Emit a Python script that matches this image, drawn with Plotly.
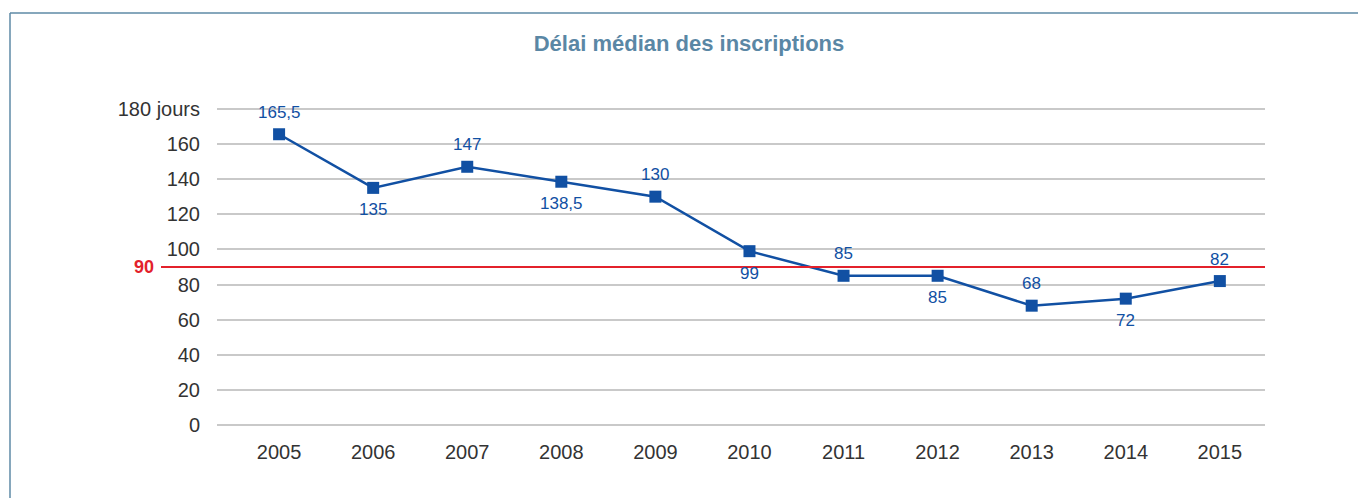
import plotly.graph_objects as go

# Median registration delay, in days
years = ["2005", "2006", "2007", "2008", "2009", "2010", "2011", "2012", "2013", "2014", "2015"]
delai = [165.5, 135, 147, 138.5, 130, 99, 85, 85, 68, 72, 82]
seuil = 90
y_ticks = [0, 20, 40, 60, 80, 100, 120, 140, 160, 180]
y_tick_text = ["0", "20", "40", "60", "80", "100", "120", "140", "160", "180 jours"]

# label placement: +1 above the marker, -1 below
label_side = [1, -1, 1, -1, 1, -1, 1, -1, 1, -1, 1]

BLUE = "#1150a3"
RED = "#e3212b"
GRID = "#c9c9c9"
TXT = "#333333"
FRAME = "#5e8aa6"
FONT = "Liberation Sans, Arial, sans-serif"

W, H = 1358, 498
L, R, T, B = 217, 93, 107, 71
pw, ph = W - L - R, H - T - B

x_idx = list(range(len(years)))

fig = go.Figure()
fig.add_trace(go.Scatter(
    x=x_idx, y=delai, mode="lines+markers",
    line=dict(color=BLUE, width=2.5),
    marker=dict(symbol="square", size=12, color=BLUE),
    hoverinfo="skip", showlegend=False,
))


def fmt(v):
    return f"{v:g}".replace(".", ",")


annotations = []
for i, (v, s) in enumerate(zip(delai, label_side)):
    annotations.append(dict(
        x=i, y=v, xref="x", yref="y", text=fmt(v), showarrow=False,
        yshift=22 * s, font=dict(family=FONT, size=17, color=BLUE),
    ))

# threshold label
annotations.append(dict(
    x=(156 - L) / pw, y=seuil, xref="paper", yref="y", text="<b>90</b>",
    showarrow=False, xanchor="right", font=dict(family=FONT, size=18, color=RED),
))

frame_x = (10 - L) / pw
frame_top = (H - B - 13) / ph
shapes = [
    # threshold line
    dict(type="line", xref="paper", yref="y", x0=(161 - L) / pw, x1=1,
         y0=seuil, y1=seuil, line=dict(color=RED, width=2), layer="above"),
    # panel frame (left and top edges)
    dict(type="line", xref="paper", yref="paper",
         x0=frame_x, x1=frame_x, y0=-B / ph - 0.1, y1=frame_top,
         line=dict(color=FRAME, width=1.5)),
    dict(type="line", xref="paper", yref="paper",
         x0=frame_x, x1=(W + 20 - L) / pw, y0=frame_top, y1=frame_top,
         line=dict(color=FRAME, width=1.5)),
]

fig.update_layout(
    width=W, height=H,
    margin=dict(l=L, r=R, t=T, b=B),
    paper_bgcolor="white", plot_bgcolor="white",
    title=dict(text="<b>Délai médian des inscriptions</b>", x=689 / W, xanchor="center",
               y=1 - 43 / H, yanchor="middle",
               font=dict(family=FONT, size=22, color="#5a87a5")),
    xaxis=dict(
        range=[-0.66, 10.48],
        tickmode="array", tickvals=x_idx, ticktext=years,
        showgrid=False, zeroline=False, showline=False, ticks="",
        tickfont=dict(family=FONT, size=20, color=TXT),
        ticklabelstandoff=11,
    ),
    yaxis=dict(
        range=[-1, 181],
        tickmode="array", tickvals=y_ticks, ticktext=y_tick_text,
        showgrid=True, gridcolor=GRID, gridwidth=1.5,
        zeroline=False, showline=False, ticks="",
        tickfont=dict(family=FONT, size=20, color=TXT),
        ticklabelstandoff=16,
    ),
    annotations=annotations,
    shapes=shapes,
)

fig.write_html("out.html")
